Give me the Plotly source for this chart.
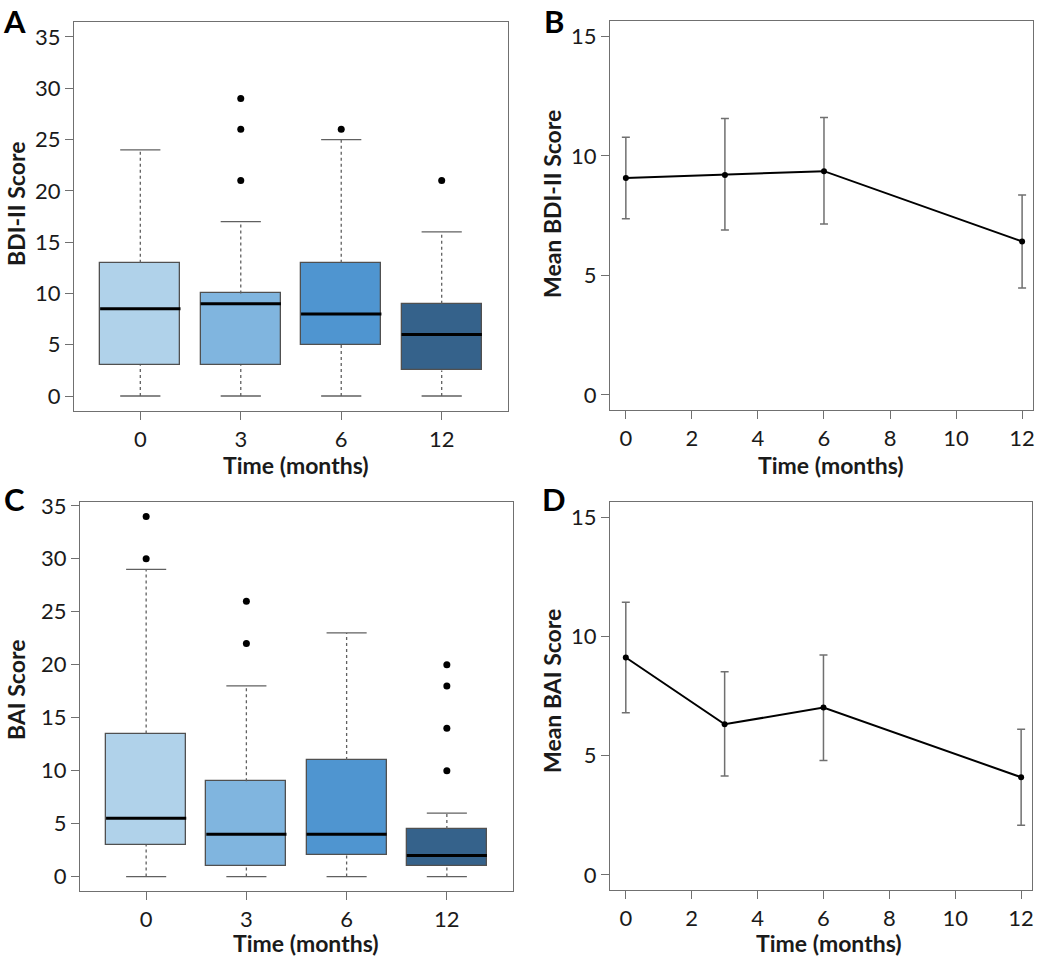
import plotly.graph_objects as go

W, H = 1050, 958

# ---------------- data ----------------
months = ["0", "3", "6", "12"]
time_num = [0, 3, 6, 12]

bdi_q1 = [3, 3, 5, 2.5]
bdi_med = [8.5, 9, 8, 6]
bdi_q3 = [13, 10, 13, 9]
bdi_lo = [0, 0, 0, 0]
bdi_hi = [24, 17, 25, 16]
bdi_out = [[], [21, 26, 29], [26], [21]]

bai_q1 = [3, 1, 2, 1]
bai_med = [5.5, 4, 4, 2]
bai_q3 = [13.5, 9, 11, 4.5]
bai_lo = [0, 0, 0, 0]
bai_hi = [29, 18, 23, 6]
bai_out = [[30, 34], [22, 26], [], [10, 14, 18, 20]]

bdi_mean = [9.07, 9.2, 9.36, 6.42]
bdi_ci_lo = [7.37, 6.9, 7.15, 4.47]
bdi_ci_hi = [10.78, 11.56, 11.6, 8.36]

bai_mean = [9.12, 6.32, 7.02, 4.1]
bai_ci_lo = [6.8, 4.15, 4.8, 2.09]
bai_ci_hi = [11.44, 8.52, 9.22, 6.11]

box_colors = ["#b0d2ea", "#80b5df", "#4f95d0", "#35628b"]

FONT = "Lato"
TXT = "#1a1a1a"
FRAME = "#707070"
BOXLINE = "#505050"

fig = go.Figure()


def add_boxes(xa, ya, q1, med, q3, lo, hi, outs):
    pos = list(range(1, len(q1) + 1))
    fig.add_trace(go.Bar(
        x=pos, y=[b - a for a, b in zip(q1, q3)], base=q1, width=0.8,
        marker=dict(color=box_colors, line=dict(color=BOXLINE, width=1.3)),
        xaxis=xa, yaxis=ya, showlegend=False, hoverinfo="skip"))
    wx, wy = [], []
    for p, a, b, l, h in zip(pos, q1, q3, lo, hi):
        wx += [p, p, None, p, p, None]
        wy += [b, h, None, l, a, None]
    fig.add_trace(go.Scatter(x=wx, y=wy, mode="lines",
                             line=dict(color="#606060", width=1.3, dash="3px,3px"),
                             xaxis=xa, yaxis=ya, showlegend=False, hoverinfo="skip"))
    cx, cy = [], []
    for p, l, h in zip(pos, lo, hi):
        cx += [p - 0.2, p + 0.2, None, p - 0.2, p + 0.2, None]
        cy += [h, h, None, l, l, None]
    fig.add_trace(go.Scatter(x=cx, y=cy, mode="lines",
                             line=dict(color="#606060", width=1.3),
                             xaxis=xa, yaxis=ya, showlegend=False, hoverinfo="skip"))
    mx, my = [], []
    for p, m in zip(pos, med):
        mx += [p - 0.4, p + 0.4, None]
        my += [m, m, None]
    fig.add_trace(go.Scatter(x=mx, y=my, mode="lines",
                             line=dict(color="#000000", width=3),
                             xaxis=xa, yaxis=ya, showlegend=False, hoverinfo="skip"))
    ox, oy = [], []
    for p, o in zip(pos, outs):
        ox += [p] * len(o)
        oy += o
    fig.add_trace(go.Scatter(x=ox, y=oy, mode="markers",
                             marker=dict(color="#000000", size=7),
                             xaxis=xa, yaxis=ya, showlegend=False, hoverinfo="skip"))


def add_means(xa, ya, mean, lo, hi):
    fig.add_trace(go.Scatter(
        x=time_num, y=mean, mode="lines+markers",
        line=dict(color="#000000", width=2),
        marker=dict(color="#000000", size=6),
        error_y=dict(type="data", symmetric=False,
                     array=[h - m for h, m in zip(hi, mean)],
                     arrayminus=[m - l for m, l in zip(mean, lo)],
                     color="#707070", thickness=1.5, width=4),
        xaxis=xa, yaxis=ya, showlegend=False, hoverinfo="skip"))


add_boxes("x", "y", bdi_q1, bdi_med, bdi_q3, bdi_lo, bdi_hi, bdi_out)
add_means("x2", "y2", bdi_mean, bdi_ci_lo, bdi_ci_hi)
add_boxes("x3", "y3", bai_q1, bai_med, bai_q3, bai_lo, bai_hi, bai_out)
add_means("x4", "y4", bai_mean, bai_ci_lo, bai_ci_hi)


def fx(p):
    return p / W


def fy(p):
    return 1 - p / H


def px_x(a, b):
    return [fx(a), fx(b)]


def px_y(top, bottom):
    return [fy(bottom), fy(top)]


axis_common = dict(showgrid=False, zeroline=False, showline=True, mirror=True,
                   linecolor=FRAME, linewidth=1.3, ticks="outside", ticklen=8,
                   tickcolor=FRAME, tickwidth=1.3, automargin=False,
                   tickfont=dict(family=FONT, size=22, color=TXT))

fig.update_layout(
    width=W, height=H, margin=dict(l=0, r=0, t=0, b=0),
    paper_bgcolor="white", plot_bgcolor="white", bargap=0,
    xaxis=dict(domain=px_x(74, 508), range=[0.34, 4.66], anchor="y",
               tickvals=[1, 2, 3, 4], ticktext=months, **axis_common),
    yaxis=dict(domain=px_y(22, 411), range=[-1.46, 36.46], anchor="x",
               tickvals=[0, 5, 10, 15, 20, 25, 30, 35], **axis_common),
    xaxis2=dict(domain=px_x(610, 1033), range=[-0.48, 12.33], anchor="y2",
                tickvals=[0, 2, 4, 6, 8, 10, 12], **axis_common),
    yaxis2=dict(domain=px_y(21, 410), range=[-0.63, 15.64], anchor="x2",
                tickvals=[0, 5, 10, 15], **axis_common),
    xaxis3=dict(domain=px_x(80, 513), range=[0.34, 4.66], anchor="y3",
                tickvals=[1, 2, 3, 4], ticktext=months, **axis_common),
    yaxis3=dict(domain=px_y(502, 891), range=[-1.36, 35.36], anchor="x3",
                tickvals=[0, 5, 10, 15, 20, 25, 30, 35], **axis_common),
    xaxis4=dict(domain=px_x(610, 1032), range=[-0.48, 12.33], anchor="y4",
                tickvals=[0, 2, 4, 6, 8, 10, 12], **axis_common),
    yaxis4=dict(domain=px_y(502, 890), range=[-0.63, 15.64], anchor="x4",
                tickvals=[0, 5, 10, 15], **axis_common),
)

# axis titles (centre positions in pixels)
title_font = dict(family=FONT, size=23, color=TXT)
titles = [
    ("Time (months)", 296, 465, 0),
    ("BDI-II Score", 16, 204, -90),
    ("Time (months)", 831, 465, 0),
    ("Mean BDI-II Score", 552, 204, -90),
    ("Time (months)", 306, 943, 0),
    ("BAI Score", 16, 690, -90),
    ("Time (months)", 829, 943, 0),
    ("Mean BAI Score", 552, 691, -90),
]
for txt, cx, cy, ang in titles:
    fig.add_annotation(text=f"<b>{txt}</b>", x=fx(cx), y=fy(cy),
                       xref="paper", yref="paper", xanchor="center", yanchor="middle",
                       textangle=ang, showarrow=False, font=title_font)

# panel letters (top edge of text box)
labels = [("A", 14, 0), ("B", 554, 0), ("C", 14, 478), ("D", 554, 478)]
for txt, cx, ty in labels:
    fig.add_annotation(text=f"<b>{txt}</b>", x=fx(cx), y=fy(ty),
                       xref="paper", yref="paper", xanchor="center", yanchor="top",
                       showarrow=False, font=dict(family=FONT, size=31, color="#000"))

# remove the default 8px page margin so the figure fills the window exactly
fig.write_html("out.html",
               config={"displayModeBar": False},
               post_script="document.body.style.margin='0px';")
